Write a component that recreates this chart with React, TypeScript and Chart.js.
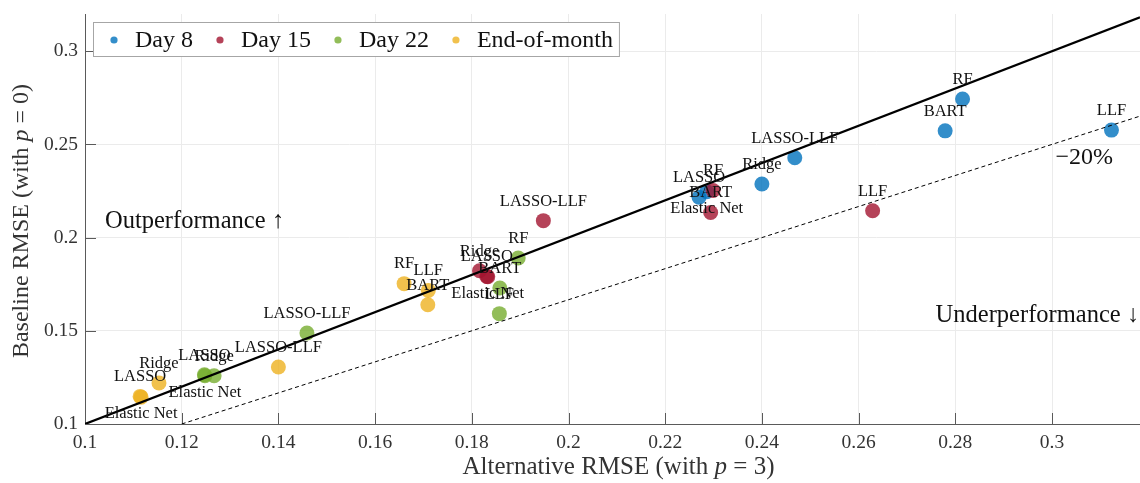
import React, { useEffect, useRef } from 'react';
import { Chart, registerables } from 'chart.js';

Chart.register(...registerables);

// ---------- data ----------
const methods = ['LASSO', 'Ridge', 'Elastic Net', 'RF', 'BART', 'LLF', 'LASSO-LLF'];
const seriesNames = ['Day 8', 'Day 15', 'Day 22', 'End-of-month'];

const day8X = [0.2270, 0.2400, 0.2286, 0.2815, 0.2779, 0.3123, 0.2468];
const day8Y = [0.2217, 0.2288, 0.2246, 0.2744, 0.2573, 0.2577, 0.2429];

const day15X = [0.1831, 0.1816, 0.1833, 0.2299, 0.2294, 0.2629, 0.1948];
const day15Y = [0.1792, 0.1822, 0.1790, 0.2253, 0.2135, 0.2144, 0.2091];

const day22X = [0.1247, 0.1267, 0.1248, 0.1896, 0.1858, 0.1857, 0.1459];
const day22Y = [0.1264, 0.1259, 0.1259, 0.1891, 0.1730, 0.1592, 0.1488];

const eomX = [0.1114, 0.1153, 0.1116, 0.1660, 0.1709, 0.1710, 0.1400];
const eomY = [0.1148, 0.1220, 0.1144, 0.1753, 0.1640, 0.1717, 0.1306];

const seriesColors = [
  'rgba(0,114,189,0.8)',
  'rgba(162,20,47,0.8)',
  'rgba(119,172,48,0.8)',
  'rgba(237,177,32,0.8)',
];

const xTicks = [0.1, 0.12, 0.14, 0.16, 0.18, 0.2, 0.22, 0.24, 0.26, 0.28, 0.3];
const xTickLabels = ['0.1', '0.12', '0.14', '0.16', '0.18', '0.2', '0.22', '0.24', '0.26', '0.28', '0.3'];
const yTicks = [0.1, 0.15, 0.2, 0.25, 0.3];
const yTickLabels = ['0.1', '0.15', '0.2', '0.25', '0.3'];

const xMin = 0.1;
const xMax = 0.3182;
const yMin = 0.1;
const yMax = 0.32;

// parity line and -20% line endpoints
const parityX = [0.1, 0.3182];
const parityY = [0.1, 0.3182];
const minus20X = [0.12, 0.3182];
const minus20Y = [0.1, 0.2652];

const SERIF = '"Liberation Serif", "Times New Roman", serif';

const toPoints = (xs: number[], ys: number[]) => xs.map((x, i) => ({ x, y: ys[i] }));

type Part = { t: string; it?: boolean };

function drawRich(ctx: CanvasRenderingContext2D, parts: Part[], cx: number, cy: number, size: number) {
  let total = 0;
  const widths = parts.map((p) => {
    ctx.font = `${p.it ? 'italic ' : ''}${size}px ${SERIF}`;
    const w = ctx.measureText(p.t).width;
    total += w;
    return w;
  });
  let x = cx - total / 2;
  ctx.textAlign = 'left';
  ctx.textBaseline = 'middle';
  parts.forEach((p, i) => {
    ctx.font = `${p.it ? 'italic ' : ''}${size}px ${SERIF}`;
    ctx.fillText(p.t, x, cy);
    x += widths[i];
  });
}

const overlayPlugin = {
  id: 'overlay',
  beforeDatasetsDraw(chart: any) {
    const ctx: CanvasRenderingContext2D = chart.ctx;
    const { left, bottom } = chart.chartArea;
    const xs = chart.scales.x;
    const ys = chart.scales.y;
    ctx.save();
    ctx.strokeStyle = '#5a5a5a';
    ctx.lineWidth = 1;
    ctx.beginPath();
    xTicks.forEach((v) => {
      const px = Math.round(xs.getPixelForValue(v)) + 0.5;
      ctx.moveTo(px, bottom);
      ctx.lineTo(px, bottom - 11);
    });
    yTicks.forEach((v) => {
      const py = Math.round(ys.getPixelForValue(v)) + 0.5;
      ctx.moveTo(left, py);
      ctx.lineTo(left + 11, py);
    });
    ctx.stroke();
    ctx.restore();
  },
  afterDatasetsDraw(chart: any) {
    const ctx: CanvasRenderingContext2D = chart.ctx;
    const area = chart.chartArea;
    ctx.save();
    // point labels
    ctx.fillStyle = '#111';
    ctx.font = `16.5px ${SERIF}`;
    ctx.textAlign = 'center';
    ctx.textBaseline = 'middle';
    for (let d = 0; d < 4; d++) {
      const meta = chart.getDatasetMeta(d);
      meta.data.forEach((el: any, i: number) => {
        const name = methods[i];
        const below = name === 'Elastic Net';
        ctx.fillText(name, el.x, below ? el.y + 17 : el.y - 19.5);
      });
    }

    // annotations
    ctx.fillStyle = '#111';
    ctx.font = `24.5px ${SERIF}`;
    ctx.textAlign = 'left';
    ctx.fillText('Outperformance \u2191', area.left + 20, 222);
    ctx.textAlign = 'right';
    ctx.fillText('Underperformance \u2193', area.right - 1, 316);
    ctx.font = `24px ${SERIF}`;
    ctx.fillText('\u221220%', 1113, 158);

    // legend
    ctx.font = `24px ${SERIF}`;
    ctx.textBaseline = 'middle';
    ctx.textAlign = 'left';
    const cy = 40;
    let x = 114;
    const boxLeft = 93;
    const boxTop = 22.5;
    const boxBottom = 56.5;
    let textEnd = 0;
    const entries: { dx: number; tx: number; w: number }[] = [];
    seriesNames.forEach((n) => {
      const w = ctx.measureText(n).width;
      entries.push({ dx: x, tx: x + 21, w });
      textEnd = x + 21 + w;
      x = textEnd + 27;
    });
    const boxRight = textEnd + 6;
    ctx.fillStyle = '#ffffff';
    ctx.fillRect(boxLeft, boxTop, boxRight - boxLeft, boxBottom - boxTop);
    ctx.strokeStyle = '#a6a6a6';
    ctx.lineWidth = 1;
    ctx.strokeRect(boxLeft + 0.5, boxTop, boxRight - boxLeft, boxBottom - boxTop);
    entries.forEach((e, i) => {
      ctx.fillStyle = seriesColors[i];
      ctx.beginPath();
      ctx.arc(e.dx, cy, 3.6, 0, Math.PI * 2);
      ctx.fill();
      ctx.fillStyle = '#111';
      ctx.fillText(seriesNames[i], e.tx, cy + 1);
    });

    // axis titles
    ctx.fillStyle = '#333';
    drawRich(
      ctx,
      [{ t: 'Alternative RMSE (with ' }, { t: 'p', it: true }, { t: ' = 3)' }],
      (area.left + area.right) / 2 + 6,
      467,
      25
    );
    ctx.save();
    ctx.translate(22, (area.top + area.bottom) / 2 + 2);
    ctx.rotate(-Math.PI / 2);
    drawRich(ctx, [{ t: 'Baseline RMSE (with ' }, { t: 'p', it: true }, { t: ' = 0)' }], 0, 0, 24);
    ctx.restore();

    ctx.restore();
  },
};

export default function App() {
  const canvasRef = useRef<HTMLCanvasElement | null>(null);

  useEffect(() => {
    if (!canvasRef.current) return;
    const xsAll = [day8X, day15X, day22X, eomX];
    const ysAll = [day8Y, day15Y, day22Y, eomY];
    const scatterSets = seriesNames.map((name, i) => ({
      type: 'scatter' as const,
      label: name,
      data: toPoints(xsAll[i], ysAll[i]),
      backgroundColor: seriesColors[i],
      borderWidth: 0,
      pointRadius: 7.5,
      pointHoverRadius: 7.5,
      order: 10 - i,
    }));

    const chart = new Chart(canvasRef.current, {
      type: 'scatter',
      data: {
        datasets: [
          ...scatterSets,
          {
            type: 'line' as const,
            label: 'parity',
            data: toPoints(parityX, parityY),
            borderColor: '#000',
            borderWidth: 2.2,
            pointRadius: 0,
            showLine: true,
            fill: false,
            order: 0,
          },
          {
            type: 'line' as const,
            label: '-20%',
            data: toPoints(minus20X, minus20Y),
            borderColor: '#000',
            borderWidth: 1,
            borderDash: [4, 3],
            pointRadius: 0,
            showLine: true,
            fill: false,
            order: 0,
          },
        ],
      } as any,
      options: {
        animation: false,
        responsive: false,
        maintainAspectRatio: false,
        events: [],
        layout: { autoPadding: false, padding: { top: 14, right: 0, left: 0, bottom: 0 } },
        plugins: {
          legend: { display: false },
          tooltip: { enabled: false },
          title: { display: false },
        },
        scales: {
          x: {
            type: 'linear',
            min: xMin,
            max: xMax,
            afterBuildTicks: (scale: any) => {
              scale.ticks = xTicks.map((v) => ({ value: v }));
            },
            afterFit: (scale: any) => {
              scale.height = 59;
              scale.paddingLeft = 0;
              scale.paddingRight = 0;
            },
            ticks: {
              padding: 7,
              color: '#333',
              font: { family: SERIF, size: 19.5 },
              callback: (_v: any, i: number) => xTickLabels[i],
              maxRotation: 0,
              autoSkip: false,
            },
            grid: { color: '#ebebeb', drawTicks: false, lineWidth: 1 },
            border: { display: true, color: '#5a5a5a', width: 1 },
          },
          y: {
            type: 'linear',
            min: yMin,
            max: yMax,
            afterBuildTicks: (scale: any) => {
              scale.ticks = yTicks.map((v) => ({ value: v }));
            },
            afterFit: (scale: any) => {
              scale.width = 85;
              scale.paddingTop = 0;
              scale.paddingBottom = 0;
            },
            ticks: {
              padding: 7,
              color: '#333',
              font: { family: SERIF, size: 19.5 },
              callback: (_v: any, i: number) => yTickLabels[i],
              autoSkip: false,
            },
            grid: { color: '#ebebeb', drawTicks: false, lineWidth: 1 },
            border: { display: true, color: '#5a5a5a', width: 1 },
          },
        },
      } as any,
      plugins: [overlayPlugin],
    });

    return () => {
      chart.destroy();
    };
  }, []);

  return (
    <div style={{ position: 'absolute', left: 0, top: 0, width: 1140, height: 483, background: '#fff' }}>
      <canvas ref={canvasRef} width={1140} height={483} style={{ width: 1140, height: 483, display: 'block' }} />
    </div>
  );
}
